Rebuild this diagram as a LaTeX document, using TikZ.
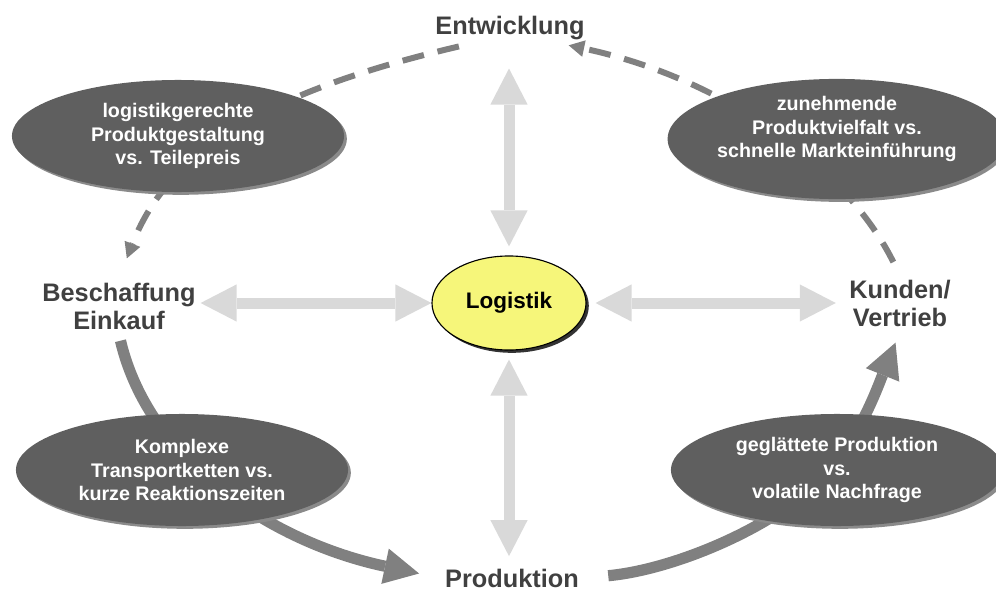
\documentclass[tikz,border=0pt]{standalone}
\usepackage{fontspec}
\setmainfont{Liberation Sans}
\usepackage{tikz}
\usetikzlibrary{positioning,arrows.meta,shapes.geometric,shadows}

\definecolor{labelgray}{HTML}{404040}
\definecolor{ovalgray}{HTML}{5F5F5F}
\definecolor{rimgray}{HTML}{8A8A8A}
\definecolor{linkgray}{HTML}{808080}
\definecolor{palegray}{HTML}{D9D9D9}
\definecolor{logyellow}{HTML}{F6F67A}

\begin{document}
\begin{tikzpicture}[x=0.025cm, y=0.025cm,
    area/.style={font=\fontsize{18}{19.5}\selectfont\bfseries, text=labelgray, align=center},
    conflict/.style={ellipse, fill=ovalgray, minimum width=8.3cm, minimum height=2.8cm, inner sep=0pt,
        text=white, font=\fontsize{14}{16.6}\selectfont\bfseries, align=center,
        drop shadow={shadow xshift=0.07cm, shadow yshift=-0.07cm, fill=rimgray, opacity=1}},
    hub/.style={ellipse, draw=black, line width=0.8pt, fill=logyellow, minimum width=3.85cm, minimum height=2.35cm,
        font=\fontsize{16}{18}\selectfont\bfseries,
        drop shadow={shadow xshift=0.07cm, shadow yshift=-0.07cm, fill=black!80, opacity=1}},
    pale/.style={line width=0.275cm, palegray,
        {Triangle[length=0.9cm,width=0.93cm,line width=0pt]}-{Triangle[length=0.9cm,width=0.93cm,line width=0pt]}},
    flow/.style={line width=0.28cm, linkgray, -{Triangle[length=0.87cm,width=0.9cm,line width=0pt]}},
    feedback/.style={line width=0.15cm, linkgray, dash pattern=on 0.55cm off 0.35cm,
        -{Triangle[length=0.39cm,width=0.42cm,line width=0pt]}}]
    \useasboundingbox (0,0) rectangle (996,-592);

    % the four areas round the logistics hub
    \node (entw) [area] at (510,-28.5) {Entwicklung};
    \node (besch) [area] at (119,-306.5) {Beschaffung\\Einkauf};
    \node (kunden) [area] at (900,-303.5) {Kunden/\\Vertrieb};
    \node (prod) [area] at (512,-578) {Produktion};

    % material flow (solid) and information flow back (dashed)
    \draw[flow, shorten <=0.16cm, shorten >=0.54cm] (besch.south) .. controls (149,-461) and (271,-542) .. (prod.west);
    \draw[flow, shorten <=0.615cm, shorten >=0.3cm] (prod.east) .. controls (675,-569.5) and (777.3,-526.2) .. (825,-475)
        .. controls (859.1,-438.4) and (876.6,-389.8) .. (kunden.south);
    \draw[feedback, shorten <=0.375cm] (kunden.north) .. controls (847.5,-169.5) and (727,-79) .. (entw.-16);
    \draw[feedback, shorten <=0.125cm, shorten >=0.54cm] (entw.200) .. controls (250,-95) and (165,-160) .. (besch.north);

    % conflicts of aims
    \node (gestaltung) [conflict] at (178,-136) {logistikgerechte\\Produktgestaltung\\vs. Teilepreis};
    \node (vielfalt) [conflict, text depth=0.6cm] at (837,-139) {zunehmende\\Produktvielfalt vs.\\schnelle Markteinführung};
    \node (transport) [conflict] at (182,-470) {Komplexe\\Transportketten vs.\\kurze Reaktionszeiten};
    \node (glaettung) [conflict] at (837,-470) {geglättete Produktion\\vs.\\volatile Nachfrage};

    \node (logistik) [hub] at (509,-303) {Logistik};

    \draw[pale, shorten <=0.225cm, shorten >=0.58cm] (logistik.north) -- (logistik.north |- entw.south);
    \draw[pale, shorten <=0.225cm, shorten >=0.19cm] (logistik.south) -- (logistik.south |- prod.north);
    \draw[pale] (logistik.west) -- (logistik.west -| besch.east);
    \draw[pale, shorten <=0.225cm, shorten >=0.215cm] (logistik.east) -- (logistik.east -| kunden.west);
\end{tikzpicture}
\end{document}
